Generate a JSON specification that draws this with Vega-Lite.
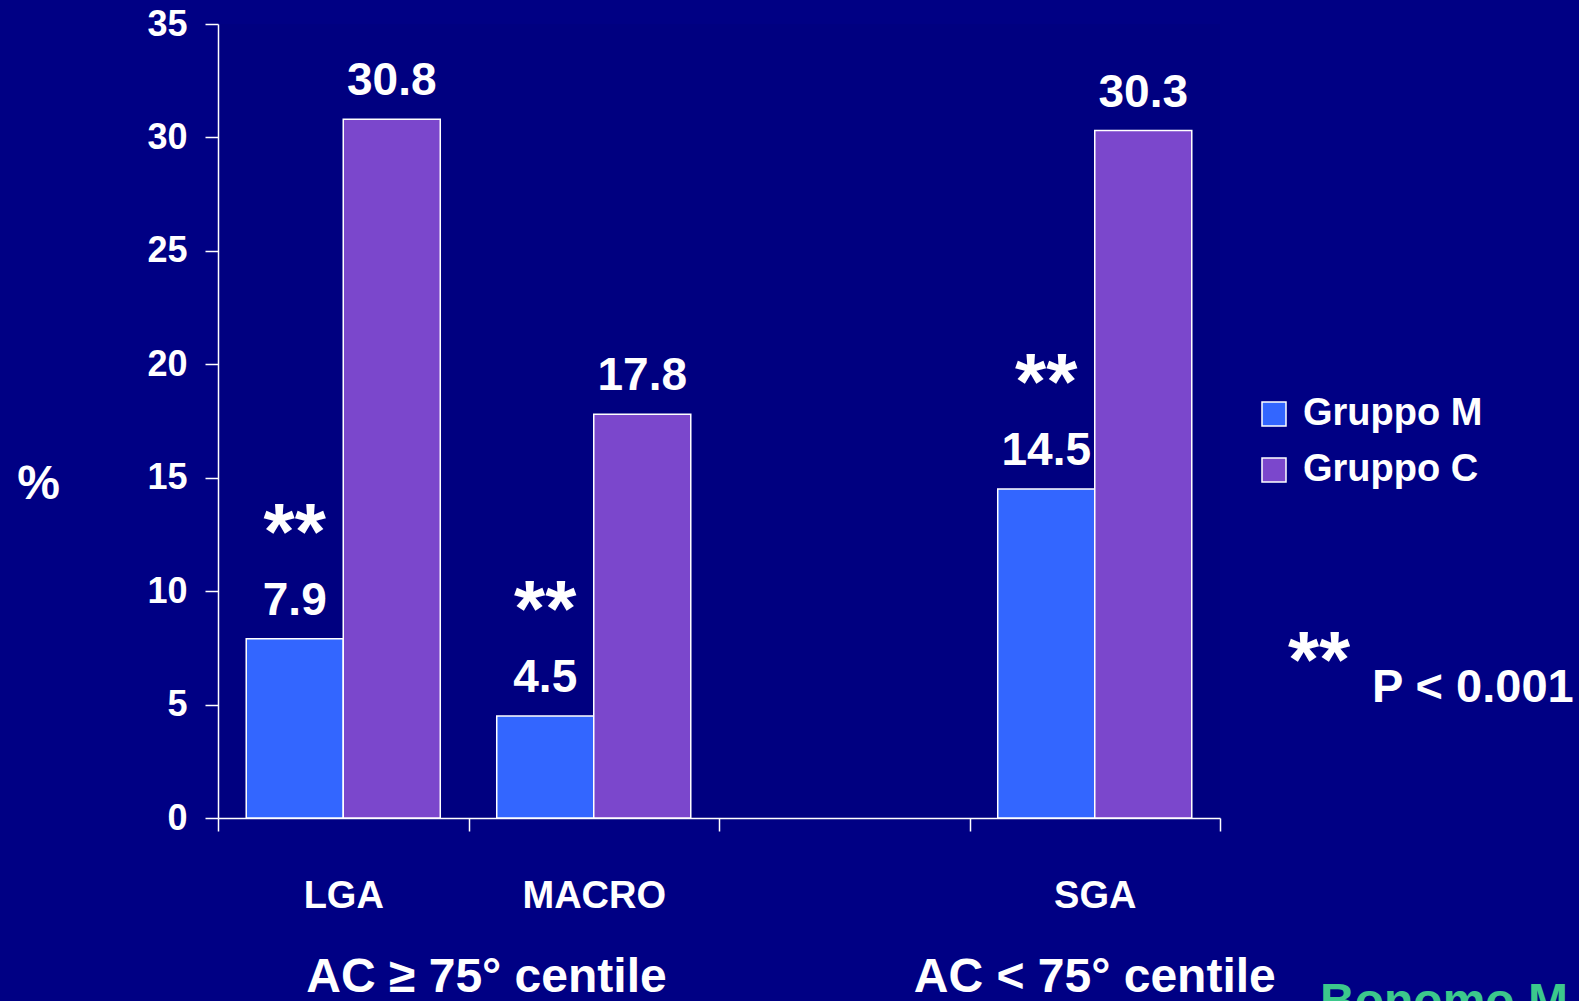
{
  "$schema": "https://vega.github.io/schema/vega-lite/v6.json",
  "width": 1002,
  "height": 794,
  "autosize": {"type": "none"},
  "padding": {"left": 218, "top": 24, "right": 359, "bottom": 183},
  "background": "#000084",
  "config": {
    "view": {"stroke": null, "fill": "#000080"},
    "font": "Liberation Sans",
    "text": {"font": "Liberation Sans", "fontWeight": "bold", "color": "white"}
  },
  "datasets": {
    "bars": [
      {"cat": "LGA", "group": "Gruppo M", "value": 7.9},
      {"cat": "LGA", "group": "Gruppo C", "value": 30.8},
      {"cat": "MACRO", "group": "Gruppo M", "value": 4.5},
      {"cat": "MACRO", "group": "Gruppo C", "value": 17.8},
      {"cat": "SGA", "group": "Gruppo M", "value": 14.5},
      {"cat": "SGA", "group": "Gruppo C", "value": 30.3}
    ]
  },
  "layer": [
    {
      "data": {"name": "bars"},
      "mark": {"type": "bar", "stroke": "white", "strokeWidth": 1.5},
      "encoding": {
        "x": {
          "field": "cat", "type": "nominal", "title": null, "sort": null,
          "scale": {"domain": ["LGA", "MACRO", " ", "SGA"], "paddingInner": 0, "paddingOuter": 0},
          "axis": {
            "tickBand": "extent", "labelAngle": 0, "grid": false,
            "labelFont": "Liberation Sans", "labelFontSize": 38, "labelFontWeight": "bold",
            "labelColor": "white", "labelPadding": 46,
            "tickSize": 13, "tickColor": "white", "tickWidth": 1.5,
            "domainColor": "white", "domainWidth": 1.5
          }
        },
        "xOffset": {
          "field": "group", "type": "nominal",
          "scale": {"domain": ["Gruppo M", "Gruppo C"], "paddingInner": 0, "paddingOuter": 0.291}
        },
        "y": {
          "field": "value", "type": "quantitative", "title": "%",
          "scale": {"domain": [0, 35], "nice": false},
          "axis": {
            "values": [0, 5, 10, 15, 20, 25, 30, 35], "grid": false,
            "labelFont": "Liberation Sans", "labelFontSize": 36, "labelFontWeight": "bold",
            "labelColor": "white", "labelPadding": 18,
            "tickSize": 13, "tickColor": "white", "tickWidth": 1.5,
            "domainColor": "white", "domainWidth": 1.5,
            "titleAngle": 0, "titleX": -180, "titleY": 474, "titleAlign": "center",
            "titleBaseline": "alphabetic", "titleFont": "Liberation Sans",
            "titleFontSize": 48, "titleFontWeight": "bold", "titleColor": "white"
          }
        },
        "color": {
          "field": "group", "type": "nominal",
          "scale": {"domain": ["Gruppo M", "Gruppo C"], "range": ["#3366FF", "#7B47CC"]},
          "legend": {
            "orient": "none", "legendX": 1037, "legendY": 371, "title": null,
            "labelFont": "Liberation Sans", "labelFontSize": 38, "labelFontWeight": "bold",
            "labelColor": "white", "labelOffset": 10, "labelLimit": 0, "rowPadding": 18,
            "symbolType": "square", "symbolSize": 576, "symbolOpacity": 1,
            "symbolStrokeColor": "white", "symbolStrokeWidth": 1.5
          }
        }
      }
    },
    {
      "data": {"name": "bars"},
      "mark": {"type": "text", "fontSize": 46, "baseline": "alphabetic", "align": "center", "dy": -24},
      "encoding": {
        "x": {"field": "cat", "type": "nominal", "title": null},
        "xOffset": {"field": "group", "type": "nominal"},
        "y": {"field": "value", "type": "quantitative", "title": "%", "scale": {"domain": [0, 35], "nice": false}},
        "text": {"field": "value", "type": "quantitative", "format": ".1f"}
      }
    },
    {
      "data": {"name": "bars"},
      "transform": [{"filter": "datum.group === 'Gruppo M'"}],
      "mark": {"type": "text", "fontSize": 80, "baseline": "alphabetic", "align": "center", "dy": -80},
      "encoding": {
        "x": {"field": "cat", "type": "nominal", "title": null},
        "xOffset": {"field": "group", "type": "nominal"},
        "y": {"field": "value", "type": "quantitative", "title": "%", "scale": {"domain": [0, 35], "nice": false}},
        "text": {"value": "**"}
      }
    },
    {
      "data": {"values": [{"cat": "MACRO", "value": -7.67, "note": "AC ≥ 75° centile"}]},
      "mark": {"type": "text", "fontSize": 48, "baseline": "alphabetic", "align": "center", "dx": 18},
      "encoding": {
        "x": {"field": "cat", "type": "nominal", "title": null, "bandPosition": 0},
        "y": {"field": "value", "type": "quantitative", "title": "%", "scale": {"domain": [0, 35], "nice": false}},
        "text": {"field": "note"}
      }
    },
    {
      "data": {"values": [{"cat": "SGA", "value": -7.67, "note": "AC < 75° centile"}]},
      "mark": {"type": "text", "fontSize": 48, "baseline": "alphabetic", "align": "center"},
      "encoding": {
        "x": {"field": "cat", "type": "nominal", "title": null},
        "y": {"field": "value", "type": "quantitative", "title": "%", "scale": {"domain": [0, 35], "nice": false}},
        "text": {"field": "note"}
      }
    },
    {
      "data": {"values": [{"cat": "SGA", "value": 5.77, "note": "**"}]},
      "mark": {"type": "text", "fontSize": 80, "baseline": "alphabetic", "align": "center", "dx": 99},
      "encoding": {
        "x": {"field": "cat", "type": "nominal", "title": null, "bandPosition": 1},
        "y": {"field": "value", "type": "quantitative", "title": "%", "scale": {"domain": [0, 35], "nice": false}},
        "text": {"field": "note"}
      }
    },
    {
      "data": {"values": [{"cat": "SGA", "value": 5.11, "note": "P < 0.001"}]},
      "mark": {"type": "text", "fontSize": 47, "baseline": "alphabetic", "align": "left", "dx": 152},
      "encoding": {
        "x": {"field": "cat", "type": "nominal", "title": null, "bandPosition": 1},
        "y": {"field": "value", "type": "quantitative", "title": "%", "scale": {"domain": [0, 35], "nice": false}},
        "text": {"field": "note"}
      }
    },
    {
      "data": {"values": [{"cat": "SGA", "value": -8.77, "note": "Bonomo M"}]},
      "mark": {"type": "text", "fontSize": 48, "baseline": "alphabetic", "align": "left", "dx": 100, "color": "#3CC88C"},
      "encoding": {
        "x": {"field": "cat", "type": "nominal", "title": null, "bandPosition": 1},
        "y": {"field": "value", "type": "quantitative", "title": "%", "scale": {"domain": [0, 35], "nice": false}},
        "text": {"field": "note"}
      }
    }
  ]
}
